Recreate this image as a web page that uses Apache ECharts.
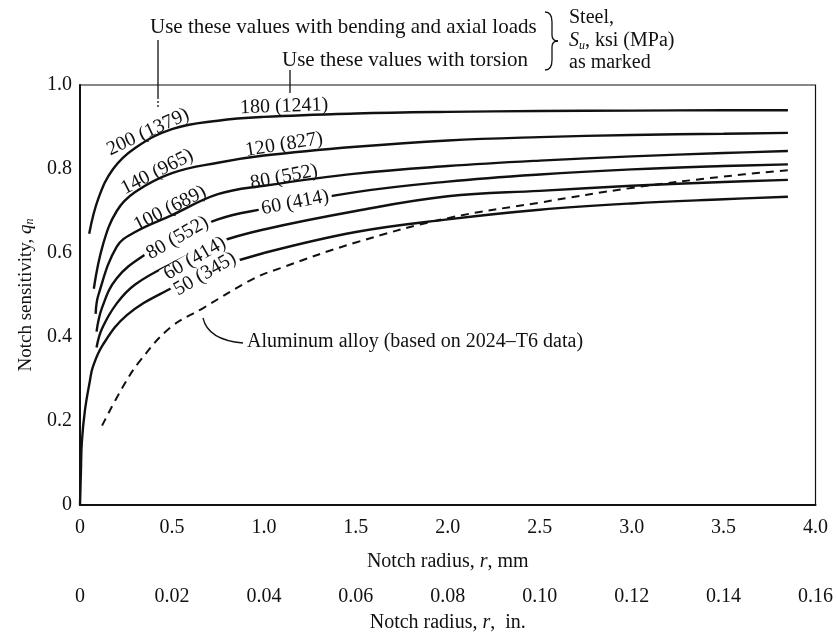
<!DOCTYPE html>
<html>
<head>
<meta charset="utf-8">
<script src="https://cdn.jsdelivr.net/npm/echarts@6/dist/echarts.min.js"></script>
<style>
html,body{margin:0;padding:0;background:#fff;}
#c{width:836px;height:638px;}
</style>
</head>
<body>
<div id="c"></div>
<script>
// ---- data (notch radius in mm, notch sensitivity q) ----
const mm200 = [0.05,0.1,0.18,0.3,0.5,0.75,1.0,1.5,2.0,2.5,3.0,3.5,3.85];
const q200  = [0.646,0.73,0.80,0.85,0.895,0.915,0.924,0.932,0.936,0.938,0.939,0.94,0.94];

const mm140 = [0.075,0.125,0.2,0.3,0.5,0.75,1.0,1.5,2.0,2.5,3.0,3.5,3.85];
const q140  = [0.515,0.62,0.70,0.745,0.79,0.815,0.832,0.853,0.868,0.876,0.881,0.884,0.886];

const mm100 = [0.085,0.1,0.2,0.3,0.5,0.75,1.0,1.5,2.0,2.5,3.0,3.5,3.85];
const q100  = [0.455,0.50,0.615,0.65,0.69,0.74,0.76,0.789,0.807,0.82,0.83,0.838,0.843];

const mm80 = [0.09,0.12,0.2,0.35,0.5,0.75,1.0,1.5,2.0,2.5,3.0,3.5,3.85];
const q80  = [0.413,0.47,0.54,0.595,0.63,0.68,0.705,0.745,0.77,0.787,0.799,0.807,0.811];

const mm60 = [0.09,0.12,0.2,0.3,0.5,0.75,1.0,1.5,2.0,2.5,3.0,3.5,3.85];
const q60  = [0.375,0.42,0.48,0.525,0.575,0.625,0.656,0.70,0.735,0.748,0.76,0.769,0.774];

const mm50 = [0,0.005,0.01,0.027,0.054,0.07,0.125,0.255,0.47,0.75,1.0,1.5,2.0,2.5,3.0,3.5,3.85];
const q50  = [0,0.08,0.15,0.226,0.296,0.329,0.382,0.452,0.51,0.565,0.60,0.65,0.68,0.703,0.718,0.728,0.734];

const mmAl = [0.12,0.234,0.326,0.49,0.67,0.94,1.09,1.5,2.0,2.5,3.0,3.5,3.85];
const qAl  = [0.189,0.282,0.343,0.422,0.469,0.538,0.564,0.625,0.683,0.72,0.755,0.782,0.797];

const mmTicks = [0,0.5,1.0,1.5,2.0,2.5,3.0,3.5,4.0];
const inTicks = [0,0.02,0.04,0.06,0.08,0.10,0.12,0.14,0.16];
const qTicks  = [0,0.2,0.4,0.6,0.8,1.0];

// curve labels: text and anchor in data units (mm, q)
const curveLabelText = ['200 (1379)','180 (1241)','140 (965)','120 (827)','100 (689)','80 (552)','80 (552)','60 (414)','60 (414)','50 (345)'];
const curveLabelMm   = [0.37,1.11,0.42,1.11,0.49,1.11,0.53,1.17,0.625,0.68];
const curveLabelQ    = [0.888,0.949,0.793,0.858,0.706,0.781,0.636,0.720,0.587,0.55];

const FONT = "'Liberation Serif','Times New Roman',serif";
const INK = '#111';

function zip(xs, ys){ return xs.map((x,i)=>[x, ys[i]]); }

const chart = echarts.init(document.getElementById('c'), null, {renderer:'canvas'});

function lineSeries(name, xs, ys, dashed){
  return {
    name, type:'line', xAxisIndex:0, yAxisIndex:0,
    data: zip(xs, ys), showSymbol:false, smooth:0.4,
    lineStyle:{color:INK, width: dashed?2:2.4, type: dashed?[8,6]:'solid', cap:'butt'},
    silent:true, z:3
  };
}

const richName = {a:{fontSize:20,fontFamily:FONT,color:INK}, i:{fontSize:20,fontFamily:FONT,fontStyle:'italic',color:INK}};

const option = {
  backgroundColor:'#fff',
  animation:false,
  textStyle:{fontFamily:FONT, color:INK},
  grid:{left:80, right:20, top:85, bottom:124, show:true, borderColor:INK, borderWidth:1.2, backgroundColor:'transparent'},
  xAxis:[
    {type:'value', min:0, max:4, interval:0.5, position:'bottom',
     axisLine:{show:true, lineStyle:{color:INK, width:2}}, axisTick:{show:false}, splitLine:{show:false},
     axisLabel:{margin:13, fontSize:20, fontFamily:FONT, color:INK,
       formatter:v=> v===0?'0':v.toFixed(1)},
     name:'{a|Notch radius, }{i|r}{a|, mm}', nameLocation:'middle', nameGap:47,
     nameTextStyle:{rich:richName}
    },
    {type:'value', min:0, max:0.16, interval:0.02, position:'bottom', offset:69,
     axisLine:{show:false}, axisTick:{show:false}, splitLine:{show:false},
     axisLabel:{margin:13, fontSize:20, fontFamily:FONT, color:INK,
       formatter:v=> v===0?'0':v.toFixed(2)},
     name:'{a|Notch radius, }{i|r}{a|,  in.}', nameLocation:'middle', nameGap:39,
     nameTextStyle:{rich:richName}
    }
  ],
  yAxis:{type:'value', min:0, max:1, interval:0.2,
    axisLine:{show:true, lineStyle:{color:INK, width:2}}, axisTick:{show:false}, splitLine:{show:false},
    axisLabel:{margin:8, fontSize:20, fontFamily:FONT, color:INK,
      formatter:v=> v===0?'0':v.toFixed(1)},
    name:'{a|Notch sensitivity, }{i|q}{s|n}', nameLocation:'middle', nameGap:42,
    nameTextStyle:{rich:{a:{fontSize:19,fontFamily:FONT,color:INK}, i:{fontSize:19,fontFamily:FONT,fontStyle:'italic',color:INK}, s:{fontSize:12,fontFamily:FONT,fontStyle:'italic',color:INK, verticalAlign:'bottom', padding:[8,0,0,0]}}}
  },
  series:[
    lineSeries('200', mm200, q200),
    lineSeries('140', mm140, q140),
    lineSeries('100', mm100, q100),
    lineSeries('80', mm80, q80),
    lineSeries('60', mm60, q60),
    lineSeries('50', mm50, q50),
    lineSeries('Aluminum', mmAl, qAl, true)
  ]
};
chart.setOption(option);

// annotation graphics
const rotations = [25,2,27,9,27,11,30,11,30,30];
const inline    = [false,false,false,false,false,false,true,true,true,true];
const g = [];
curveLabelText.forEach((t,i)=>{
  const p = chart.convertToPixel({xAxisIndex:0, yAxisIndex:0}, [curveLabelMm[i], curveLabelQ[i]]);
  g.push({type:'text', x:p[0], y:p[1], rotation: rotations[i]*Math.PI/180, z:10,
    style:{text:t, fontSize:20, fontFamily:FONT, fill:INK, align:'center', verticalAlign:'middle',
      backgroundColor: inline[i] ? '#fff' : null, padding: inline[i] ? [0,3] : 0, lineHeight:15}});
});
const ln = {stroke:INK, lineWidth:1.3, fill:null};
// top notes
g.push({type:'text', x:150, y:27, z:10, style:{text:'Use these values with bending and axial loads', fontSize:21, fontFamily:FONT, fill:INK, align:'left', verticalAlign:'middle'}});
g.push({type:'text', x:282, y:60, z:10, style:{text:'Use these values with torsion', fontSize:21, fontFamily:FONT, fill:INK, align:'left', verticalAlign:'middle'}});
g.push({type:'line', z:10, shape:{x1:158, y1:40, x2:158, y2:97}, style:ln});
g.push({type:'line', z:10, shape:{x1:158, y1:97, x2:158, y2:108}, style:{stroke:INK, lineWidth:1.3, lineDash:[2,2]}});
g.push({type:'line', z:10, shape:{x1:290, y1:70, x2:290, y2:93}, style:ln});
// brace
g.push({type:'bezierCurve', z:10, shape:{x1:545, y1:12, x2:552, y2:22, cpx1:552, cpy1:12}, style:ln});
g.push({type:'line', z:10, shape:{x1:552, y1:22, x2:552, y2:35}, style:ln});
g.push({type:'bezierCurve', z:10, shape:{x1:552, y1:35, x2:558, y2:41, cpx1:552, cpy1:41}, style:ln});
g.push({type:'bezierCurve', z:10, shape:{x1:558, y1:41, x2:552, y2:47, cpx1:552, cpy1:41}, style:ln});
g.push({type:'line', z:10, shape:{x1:552, y1:47, x2:552, y2:60}, style:ln});
g.push({type:'bezierCurve', z:10, shape:{x1:552, y1:60, x2:545, y2:70, cpx1:552, cpy1:70}, style:ln});
g.push({type:'text', x:569, y:18, z:10, style:{text:'Steel,', fontSize:20, fontFamily:FONT, fill:INK, align:'left', verticalAlign:'middle'}});
g.push({type:'text', x:569, y:41, z:10, style:{text:'{i|S}{s|u}{a|, ksi (MPa)}', fontFamily:FONT, fill:INK, align:'left', verticalAlign:'middle',
  rich:{a:{fontSize:20,fontFamily:FONT,fill:INK}, i:{fontSize:20,fontFamily:FONT,fontStyle:'italic',fill:INK}, s:{fontSize:12,fontFamily:FONT,fontStyle:'italic',fill:INK,padding:[10,0,0,0]}}}});
g.push({type:'text', x:569, y:63, z:10, style:{text:'as marked', fontSize:20, fontFamily:FONT, fill:INK, align:'left', verticalAlign:'middle'}});
// aluminum note
g.push({type:'bezierCurve', z:10, shape:{x1:203, y1:318, x2:243, y2:343, cpx1:208, cpy1:340}, style:ln});
g.push({type:'text', x:247, y:342, z:10, style:{text:'Aluminum alloy (based on 2024\u2013T6 data)', fontSize:20, fontFamily:FONT, fill:INK, align:'left', verticalAlign:'middle'}});

chart.setOption({graphic:g});
</script>
</body>
</html>
